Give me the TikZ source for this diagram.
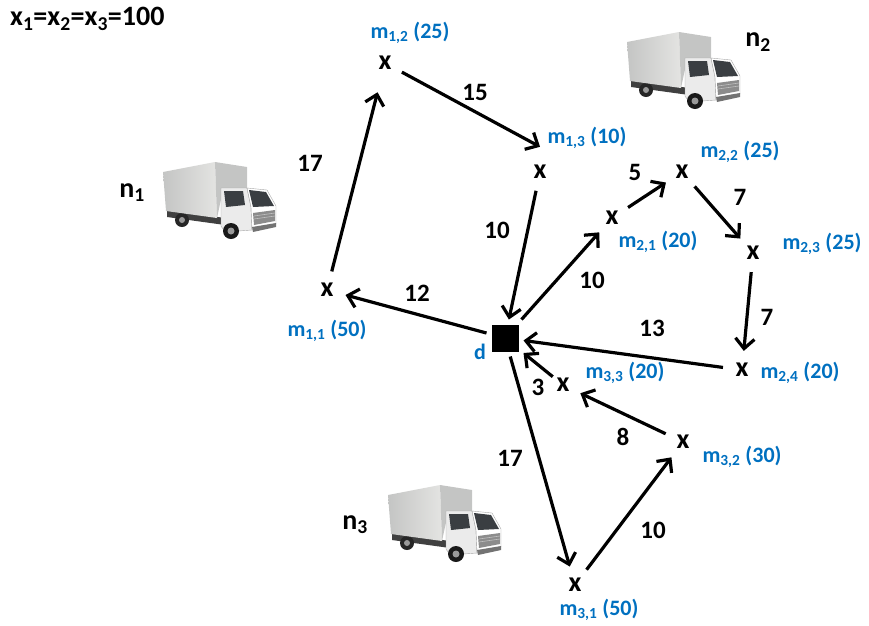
\documentclass[tikz,border=0pt]{standalone}
\usepackage{fontspec}
\setmainfont{Carlito}
\usetikzlibrary{arrows.meta}

\definecolor{mblue}{RGB}{0,112,192}
\definecolor{boxlight}{RGB}{228,228,226}
\definecolor{boxdark}{RGB}{196,197,196}
\definecolor{glass}{RGB}{58,62,66}

% small delivery lorry, top left corner at (#1,#2)
\newcommand{\drawtruck}[2]{%
  \begin{scope}[shift={(#1,#2)}]
    \fill[black!75] (4,50) -- (62,58) -- (62,65) -- (4,57) -- cycle;
    \fill[black!85] (19,60) circle (7);
    \fill[black!40] (19,60) circle (3);
    \shade[left color=boxdark, right color=boxlight] (0,12) -- (52,2) -- (54,58) -- (3,51) -- cycle;
    \fill[boxdark] (52,2) -- (84,7) -- (84,30) -- (60,30) -- (54,58) -- cycle;
    \fill[black!8, draw=black!35, line width=0.4] (58,28) -- (84,28) -- (88,47) -- (89,70) -- (62,72) -- (58,66) -- cycle;
    \fill[white, draw=black!35, line width=0.4] (84,28) -- (104,30) -- (113,46) -- (113,64) -- (89,70) -- (88,47) -- cycle;
    \fill[glass] (61,31) -- (80,31) -- (82,45) -- (63,47) -- cycle;
    \fill[glass] (86,30) -- (103,32) -- (111,46) -- (90,47) -- cycle;
    \fill[black!45] (90,53) -- (112,50) -- (112,61) -- (91,65) -- cycle;
    \draw[black!25, line width=0.6] (91,56) -- (112,53) (91,59) -- (112,56);
    \fill[black!55] (89,67) -- (113,63) -- (113,67) -- (90,72) -- cycle;
    \fill[black!90] (68,71) circle (8);
    \fill[black!40] (68,71) circle (3.5);
  \end{scope}}

\begin{document}
\begin{tikzpicture}[x=1pt,y=-1pt,
    cust/.style={circle, minimum size=38pt, inner sep=0pt, font=\fontsize{28}{30}\selectfont\bfseries},
    dem/.style={text=mblue, inner sep=0pt, font=\fontsize{22}{24}\selectfont\bfseries},
    wt/.style={inner sep=0pt, font=\fontsize{25}{28}\selectfont\bfseries},
    nlab/.style={inner sep=0pt, font=\fontsize{28}{30}\selectfont\bfseries},
    depot/.style={fill=black, minimum size=27pt, inner sep=0pt, outer sep=5pt},
    road/.style={line width=3.2pt, -{Straight Barb[length=10pt, width=19pt, line width=3.2pt]}}]
  \useasboundingbox (0,0) rectangle (869,625);

  \node[wt, anchor=west, font=\fontsize{28}{30}\selectfont\bfseries] (xcap) at (10,19) {x\textsubscript{1}=x\textsubscript{2}=x\textsubscript{3}=100};

  % lorries
  \drawtruck{163}{160}
  \drawtruck{627}{30}
  \drawtruck{388}{483}
  \node[nlab] (n1) at (132,193) {n\textsubscript{1}};
  \node[nlab] (n2) at (758,42) {n\textsubscript{2}};
  \node[nlab] (n3) at (355,525) {n\textsubscript{3}};

  % depot
  \node[depot] (d) at (505,338) {};
  \node[dem] (dl) at (480,352) {d};

  % customers
  \node[cust] (m11) at (327,290) {x};
  \node[cust] (m12) at (385,63) {x};
  \node[cust] (m13) at (540,172) {x};
  \node[cust] (m21) at (612,218) {x};
  \node[cust] (m22) at (682,172) {x};
  \node[cust] (m23) at (753,253) {x};
  \node[cust] (m24) at (742,370) {x};
  \node[cust] (m31) at (575,585) {x};
  \node[cust] (m32) at (683,442) {x};
  \node[cust] (m33) at (563,385) {x};

  \node[dem] (l11) at (327,331) {m\textsubscript{1,1} (50)};
  \node[dem] (l12) at (410,33) {m\textsubscript{1,2} (25)};
  \node[dem] (l13) at (587,138) {m\textsubscript{1,3} (10)};
  \node[dem] (l21) at (658,242) {m\textsubscript{2,1} (20)};
  \node[dem] (l22) at (740,152) {m\textsubscript{2,2} (25)};
  \node[dem] (l23) at (822,244) {m\textsubscript{2,3} (25)};
  \node[dem] (l24) at (800,373) {m\textsubscript{2,4} (20)};
  \node[dem] (l31) at (599,610) {m\textsubscript{3,1} (50)};
  \node[dem] (l32) at (742,457) {m\textsubscript{3,2} (30)};
  \node[dem] (l33) at (625,373) {m\textsubscript{3,3} (20)};

  % routes
  \draw[road, shorten >=11pt] (m11) -- (m12);
  \draw[road] (m12) -- ([yshift=6pt]m13.north);
  \draw[road] (m13) -- (d);
  \draw[road] (d) -- (m11);
  \draw[road] (d) -- (m21);
  \draw[road] (m21) -- (m22);
  \draw[road] (m22) -- (m23);
  \draw[road] (m23) -- (m24);
  \draw[road] (m24) -- (d);
  \draw[road, shorten <=-6pt] (m33) -- (d);
  \draw[road] (m32) -- (m33);
  \draw[road] (m31) -- (m32);
  \draw[road] (d) -- (m31);

  % distances
  \node[wt] (w1) at (310,163) {17};
  \node[wt] (w2) at (475,92) {15};
  \node[wt] (w3) at (497,230) {10};
  \node[wt] (w4) at (417,293) {12};
  \node[wt] (w5) at (592,280) {10};
  \node[wt] (w6) at (635,172) {5};
  \node[wt] (w7) at (740,197) {7};
  \node[wt] (w8) at (767,317) {7};
  \node[wt] (w9) at (652,328) {13};
  \node[wt] (w10) at (538,387) {3};
  \node[wt] (w11) at (623,437) {8};
  \node[wt] (w12) at (653,530) {10};
  \node[wt] (w13) at (510,458) {17};
\end{tikzpicture}
\end{document}
